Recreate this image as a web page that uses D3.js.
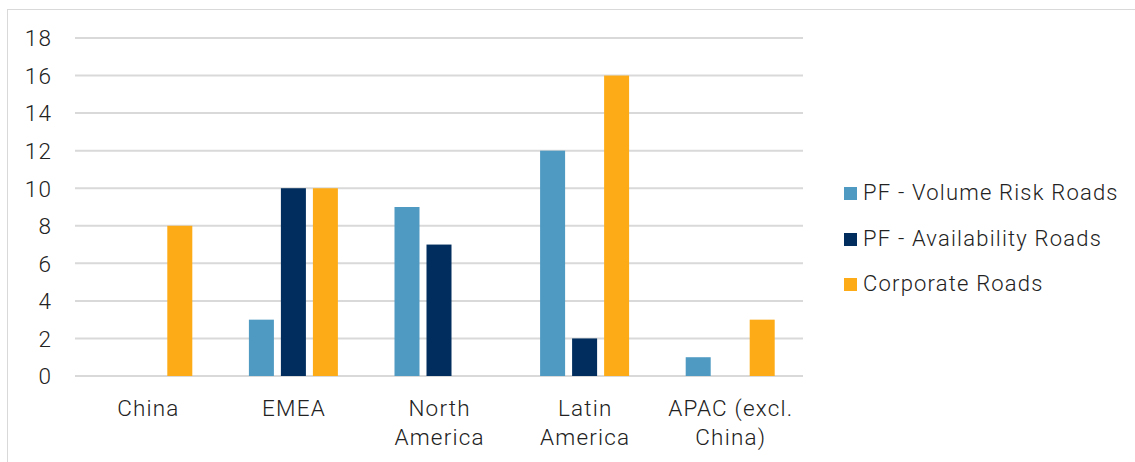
<!DOCTYPE html>
<html>
<head>
<meta charset="utf-8">
<script src="https://cdn.jsdelivr.net/npm/d3@7"></script>
<style>
  html, body { margin: 0; padding: 0; background: #fff; }
  svg { display: block; font-family: Roboto, "Liberation Sans", sans-serif; }
</style>
</head>
<body>
<svg id="chart" width="1135" height="462"></svg>
<script>
// Road ratings by region
const categories = [["China"], ["EMEA"], ["North", "America"], ["Latin", "America"], ["APAC (excl.", "China)"]];
const seriesNames = ["PF - Volume Risk Roads", "PF - Availability Roads", "Corporate Roads"];
const volumeRisk = [0, 3, 9, 12, 1];
const availability = [0, 10, 7, 2, 0];
const corporate = [8, 10, 0, 16, 3];
const yTicks = [0, 2, 4, 6, 8, 10, 12, 14, 16, 18];
const colors = ["#4f9ac3", "#002d5e", "#fdac18"];

const series = [volumeRisk, availability, corporate];
const svg = d3.select("#chart");
const textColor = "#222";
const spacing = 1.2;

// outer frame
svg.append("rect")
  .attr("x", 7.5).attr("y", 9.5)
  .attr("width", 1140).attr("height", 470)
  .attr("fill", "none").attr("stroke", "#d9d9d9").attr("stroke-width", 1);

const plot = { left: 75, right: 803, top: 38, bottom: 376 };

const x0 = d3.scaleBand()
  .domain(d3.range(categories.length))
  .range([plot.left, plot.right])
  .padding(0);

const y = d3.scaleLinear().domain([0, 18]).range([plot.bottom, plot.top]);

// gridlines
svg.append("g")
  .selectAll("line")
  .data(yTicks)
  .join("line")
  .attr("x1", plot.left).attr("x2", plot.right)
  .attr("y1", d => y(d)).attr("y2", d => y(d))
  .attr("stroke", "#d9d9d9").attr("stroke-width", 2);

// y axis labels
const yAxis = d3.axisLeft(y).tickValues(yTicks).tickSize(0).tickPadding(0);
const gy = svg.append("g").attr("transform", `translate(${plot.left - 24 + spacing},0)`).call(yAxis);
gy.select(".domain").remove();
gy.selectAll("text")
  .attr("font-size", 22.5).attr("font-weight", 300).attr("fill", textColor)
  .attr("letter-spacing", spacing)
  .attr("font-family", "Roboto, sans-serif").attr("dy", "0.35em");

// bars
const barW = 25, gap = 7;
const groupW = barW * 3 + gap * 2;
const x1 = d3.scaleOrdinal().domain([0, 1, 2]).range([0, barW + gap, 2 * (barW + gap)]);

categories.forEach((c, i) => {
  const cx = x0(i) + x0.bandwidth() / 2;
  const g = svg.append("g").attr("transform", `translate(${cx - groupW / 2},0)`);
  g.selectAll("rect")
    .data(series.map((s, k) => ({ k, v: s[i] })).filter(d => d.v > 0))
    .join("rect")
    .attr("x", d => x1(d.k))
    .attr("y", d => y(d.v))
    .attr("width", barW)
    .attr("height", d => y(0) - y(d.v))
    .attr("fill", d => colors[d.k]);
});

// category labels
categories.forEach((lines, i) => {
  const cx = x0(i) + x0.bandwidth() / 2 + spacing / 2;
  const t = svg.append("text")
    .attr("x", cx).attr("y", 416)
    .attr("text-anchor", "middle")
    .attr("letter-spacing", spacing)
    .attr("font-size", 22.5).attr("font-weight", 300).attr("fill", textColor);
  lines.forEach((ln, j) => {
    t.append("tspan").attr("x", cx).attr("dy", j === 0 ? 0 : 29).text(ln);
  });
});

// legend
const legend = svg.append("g").attr("transform", "translate(844,0)");
const legBase = [200, 246, 291];
seriesNames.forEach((name, k) => {
  legend.append("rect")
    .attr("x", 0).attr("y", legBase[k] - 13)
    .attr("width", 13).attr("height", 13)
    .attr("fill", colors[k]);
  legend.append("text")
    .attr("x", 19).attr("y", legBase[k])
    .attr("font-size", 22).attr("font-weight", 300).attr("fill", textColor)
    .attr("letter-spacing", spacing)
    .text(name);
});
</script>
</body>
</html>
